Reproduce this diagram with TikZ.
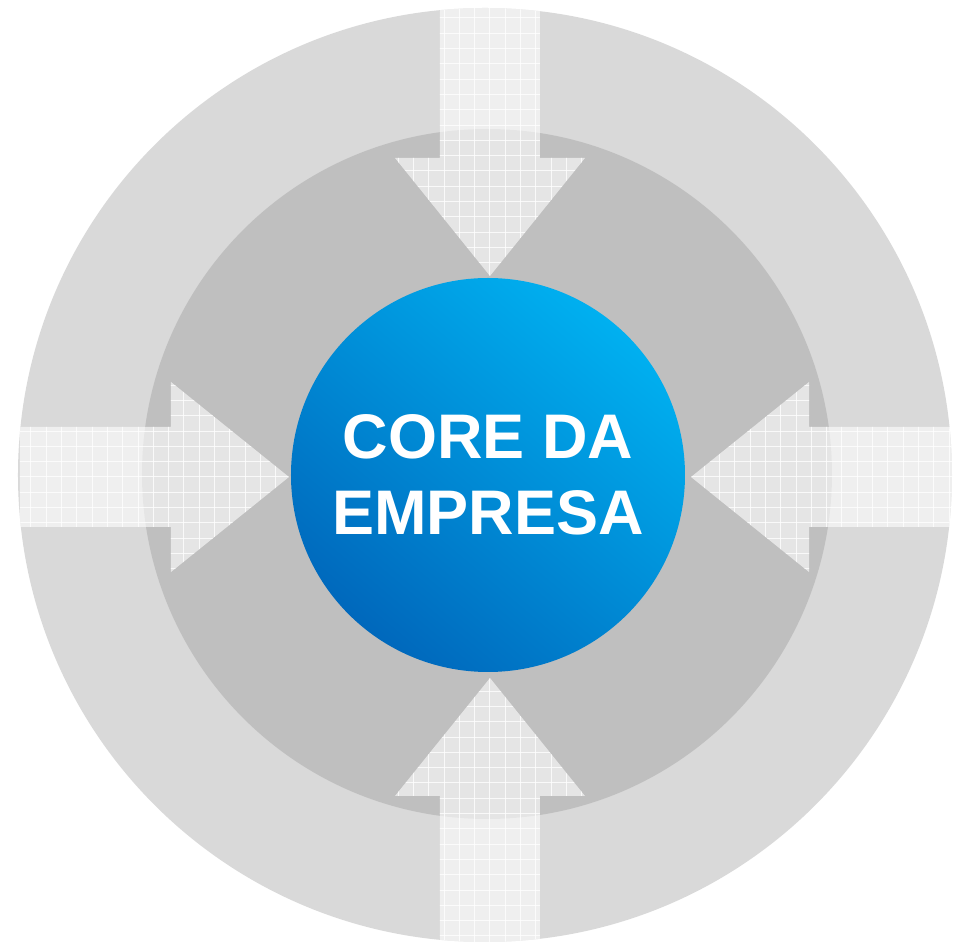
\documentclass[tikz,border=0pt]{standalone}
\usepackage{fontspec}
\newfontfamily\corefont{Liberation Sans}
\definecolor{ringouter}{HTML}{D9D9D9}
\definecolor{ringinner}{HTML}{BFBFBF}
\definecolor{corelight}{HTML}{00B0F0}
\definecolor{coredark}{HTML}{0068BC}
\tikzset{
  outerring/.style={fill=ringouter},
  innerring/.style={fill=ringinner},
  inarrow/.style={fill=white, fill opacity=0.6},
  arrowpath/.style={insert path={(-50,470) -- (-50,319) -- (-95,319) -- (0,201) -- (95,319) -- (50,319) -- (50,470) -- cycle}},
  gridline/.style={draw=white, line width=1pt, opacity=0.8},
  core/.style={circle, minimum size=394pt, inner sep=0pt, align=center, text=white,
    top color=corelight, bottom color=coredark, shading angle=-40,
    font=\corefont\bfseries\fontsize{63}{76}\selectfont}
}

\begin{document}
\begin{tikzpicture}[x=1pt, y=1pt]
    \useasboundingbox (-490,-467) rectangle (464,477);
    
    \fill[outerring] (-5,2) circle[radius=467];
    \fill[innerring] (-3,3) circle[radius=345];
    
    \begin{scope}
      \clip (-5,2) circle[radius=467];
      \foreach \ang in {0,90,180,270}{
        \begin{scope}[rotate=\ang]
          \fill[inarrow, arrowpath];
          \begin{scope}
            \clip[arrowpath];
            \foreach \k in {-7,...,7}
              \draw[gridline] (\k*15.3,190) -- (\k*15.3,475);
            \foreach \k in {13,...,31}
              \draw[gridline] (-100,\k*15.3) -- (100,\k*15.3);
          \end{scope}
        \end{scope}
      }
    \end{scope}
    
    \node[core] (core) at (-2,2) {CORE DA\\EMPRESA};
    
\end{tikzpicture}
\end{document}
